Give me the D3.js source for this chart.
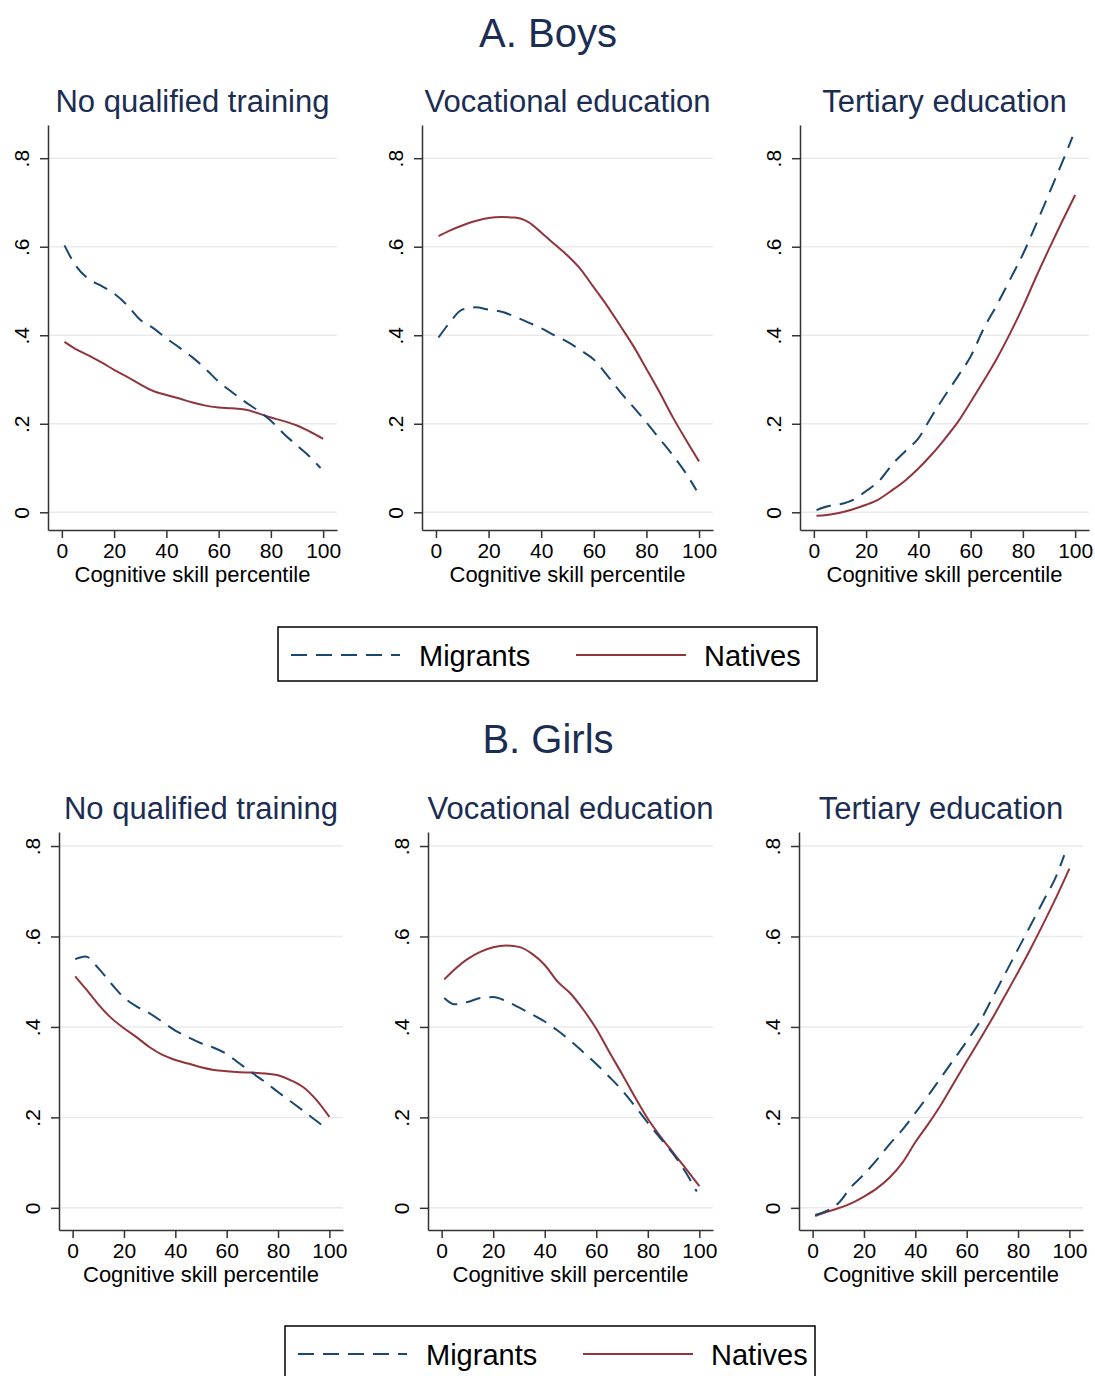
<!DOCTYPE html>
<html>
<head>
<meta charset="utf-8">
<script src="https://cdn.jsdelivr.net/npm/d3@7"></script>
<style>
  html, body { margin: 0; padding: 0; background: #fff; }
  svg { display: block; }
  text { font-family: "Liberation Sans", Arial, Helvetica, sans-serif; }
</style>
</head>
<body>
<svg id="chart" width="1095" height="1376"></svg>
<script>
// ---------- DATA ----------
const groupTitles = ["A. Boys", "B. Girls"];
const panelTitles = ["No qualified training", "Vocational education", "Tertiary education"];
const seriesNames = ["Migrants", "Natives"];
const xTicks = [0, 20, 40, 60, 80, 100];
const yTicks = [0, 0.2, 0.4, 0.6, 0.8];
const xAxisTitle = "Cognitive skill percentile";

const pctMigrants = [1, 5, 10, 15, 20, 25, 30, 35, 40, 45, 50, 55, 60, 65, 70, 75, 80, 85, 90, 95, 99];
const pctNatives  = [1, 5, 10, 15, 20, 25, 30, 35, 40, 45, 50, 55, 60, 65, 70, 75, 80, 85, 90, 95, 100];
const pctGirlsTertMigrants = [1, 5, 10, 15, 20, 25, 30, 35, 40, 45, 50, 55, 60, 65, 70, 75, 80, 85, 90, 95, 98];

// Boys
const boysNoQualMigrants = [0.603, 0.56, 0.528, 0.512, 0.494, 0.468, 0.435, 0.416, 0.393, 0.372, 0.35, 0.324, 0.295, 0.272, 0.25, 0.23, 0.207, 0.177, 0.151, 0.125, 0.100];
const boysNoQualNatives  = [0.385, 0.37, 0.355, 0.339, 0.322, 0.306, 0.289, 0.274, 0.265, 0.257, 0.248, 0.241, 0.237, 0.235, 0.232, 0.224, 0.214, 0.206, 0.196, 0.182, 0.166];
const boysVocMigrants    = [0.395, 0.427, 0.458, 0.463, 0.458, 0.453, 0.442, 0.429, 0.416, 0.4, 0.385, 0.366, 0.345, 0.31, 0.272, 0.238, 0.203, 0.166, 0.129, 0.088, 0.05];
const boysVocNatives     = [0.624, 0.636, 0.648, 0.658, 0.665, 0.667, 0.666, 0.656, 0.632, 0.606, 0.58, 0.549, 0.508, 0.467, 0.422, 0.376, 0.324, 0.271, 0.215, 0.164, 0.115];
const boysTertMigrants   = [0.005, 0.013, 0.018, 0.028, 0.048, 0.071, 0.108, 0.138, 0.167, 0.216, 0.262, 0.306, 0.352, 0.415, 0.468, 0.525, 0.583, 0.65, 0.72, 0.79, 0.848];
const boysTertNatives    = [-0.008, -0.006, -0.001, 0.007, 0.017, 0.03, 0.05, 0.072, 0.099, 0.13, 0.165, 0.203, 0.249, 0.297, 0.347, 0.403, 0.464, 0.531, 0.595, 0.657, 0.717];

// Girls
const girlsNoQualMigrants = [0.55, 0.556, 0.53, 0.496, 0.465, 0.445, 0.43, 0.411, 0.392, 0.377, 0.364, 0.354, 0.34, 0.319, 0.298, 0.278, 0.256, 0.235, 0.214, 0.192, 0.175];
const girlsNoQualNatives  = [0.512, 0.485, 0.45, 0.42, 0.397, 0.377, 0.355, 0.338, 0.327, 0.319, 0.311, 0.305, 0.302, 0.3, 0.299, 0.297, 0.293, 0.282, 0.266, 0.238, 0.201];
const girlsVocMigrants    = [0.464, 0.45, 0.455, 0.464, 0.466, 0.457, 0.443, 0.428, 0.412, 0.392, 0.369, 0.344, 0.318, 0.29, 0.26, 0.225, 0.188, 0.153, 0.118, 0.076, 0.036];
const girlsVocNatives     = [0.505, 0.527, 0.55, 0.566, 0.576, 0.58, 0.577, 0.562, 0.537, 0.5, 0.474, 0.438, 0.396, 0.345, 0.296, 0.245, 0.197, 0.157, 0.121, 0.085, 0.048];
const girlsTertMigrants   = [-0.016, -0.008, 0.01, 0.046, 0.074, 0.106, 0.141, 0.173, 0.21, 0.248, 0.288, 0.328, 0.368, 0.41, 0.464, 0.518, 0.572, 0.626, 0.68, 0.735, 0.78];
const girlsTertNatives    = [-0.018, -0.01, -0.001, 0.01, 0.025, 0.043, 0.067, 0.1, 0.145, 0.185, 0.228, 0.276, 0.324, 0.371, 0.419, 0.47, 0.521, 0.574, 0.63, 0.688, 0.75];

// ---------- LAYOUT ----------
const colMig = "#1a476f", colNat = "#90353b";
const titleCol = "#1b2d52";
const svg = d3.select("#chart");

const groups = [
  {
    title: groupTitles[0], titleY: 47,
    yDomain: [-0.04, 0.875], yRange: [530, 125],
    subtitleY: 112,
    panels: [
      { x0: 48,  x1: 337,  mig: [pctMigrants, boysNoQualMigrants], nat: [pctNatives, boysNoQualNatives] },
      { x0: 422, x1: 713,  mig: [pctMigrants, boysVocMigrants],    nat: [pctNatives, boysVocNatives] },
      { x0: 800, x1: 1089, mig: [pctMigrants, boysTertMigrants],   nat: [pctNatives, boysTertNatives] }
    ],
    legend: { x0: 278, x1: 817, y0: 627, y1: 681 }
  },
  {
    title: groupTitles[1], titleY: 753,
    yDomain: [-0.049, 0.831], yRange: [1230, 832],
    subtitleY: 819,
    panels: [
      { x0: 59,  x1: 343,  mig: [pctMigrants, girlsNoQualMigrants], nat: [pctNatives, girlsNoQualNatives] },
      { x0: 428, x1: 713,  mig: [pctMigrants, girlsVocMigrants],    nat: [pctNatives, girlsVocNatives] },
      { x0: 799, x1: 1083, mig: [pctGirlsTertMigrants, girlsTertMigrants], nat: [pctNatives, girlsTertNatives] }
    ],
    legend: { x0: 285, x1: 815, y0: 1326, y1: 1383 }
  }
];

const fmtY = d => d === 0 ? "0" : d3.format(".1f")(d).replace(/^0\./, ".");

groups.forEach(g => {
  svg.append("text")
    .attr("x", 548).attr("y", g.titleY)
    .attr("text-anchor", "middle")
    .attr("font-size", 40)
    .attr("fill", titleCol)
    .text(g.title);

  g.panels.forEach((p, i) => {
    const x = d3.scaleLinear().domain([-5.3, 105.3]).range([p.x0, p.x1]);
    const y = d3.scaleLinear().domain(g.yDomain).range(g.yRange);
    const gp = svg.append("g");

    // subtitle
    gp.append("text")
      .attr("x", (p.x0 + p.x1) / 2).attr("y", g.subtitleY)
      .attr("text-anchor", "middle")
      .attr("font-size", 31)
      .attr("fill", titleCol)
      .text(panelTitles[i]);

    // gridlines
    gp.append("g").selectAll("line").data(yTicks).join("line")
      .attr("x1", p.x0).attr("x2", p.x1)
      .attr("y1", d => y(d)).attr("y2", d => y(d))
      .attr("stroke", "#eaeaea").attr("stroke-width", 1.5);

    // y axis
    const yAxis = gp.append("g")
      .attr("transform", `translate(${p.x0},0)`)
      .call(d3.axisLeft(y).tickValues(yTicks).tickFormat(fmtY).tickSize(8).tickSizeOuter(0));
    yAxis.select(".domain").attr("stroke", "#333").attr("stroke-width", 1.5);
    yAxis.selectAll(".tick line").attr("stroke", "#333").attr("stroke-width", 1.5);
    yAxis.selectAll(".tick text")
      .attr("font-size", 21)
      .attr("fill", "#000")
      .attr("x", null).attr("dy", null)
      .attr("text-anchor", "middle")
      .attr("transform", "translate(-19,0) rotate(-90)")
      .attr("y", 0);

    // x axis
    const xAxis = gp.append("g")
      .attr("transform", `translate(0,${g.yRange[0]})`)
      .call(d3.axisBottom(x).tickValues(xTicks).tickFormat(d3.format("d")).tickSize(8).tickSizeOuter(0));
    xAxis.select(".domain").attr("stroke", "#333").attr("stroke-width", 1.5);
    xAxis.selectAll(".tick line").attr("stroke", "#333").attr("stroke-width", 1.5);
    xAxis.selectAll(".tick text")
      .attr("font-size", 21).attr("fill", "#000")
      .attr("dy", null).attr("y", 28);

    // x axis title
    gp.append("text")
      .attr("x", (p.x0 + p.x1) / 2).attr("y", g.yRange[0] + 52)
      .attr("text-anchor", "middle")
      .attr("font-size", 22).attr("fill", "#000")
      .text(xAxisTitle);

    const line = d3.line().x(d => x(d[0])).y(d => y(d[1])).curve(d3.curveMonotoneX);

    const natPts = p.nat[0].map((v, k) => [v, p.nat[1][k]]);
    const migPts = p.mig[0].map((v, k) => [v, p.mig[1][k]]);

    gp.append("path").datum(natPts)
      .attr("d", line).attr("fill", "none")
      .attr("stroke", colNat).attr("stroke-width", 2);
    gp.append("path").datum(migPts)
      .attr("d", line).attr("fill", "none")
      .attr("stroke", colMig).attr("stroke-width", 2)
      .attr("stroke-dasharray", "15,9");
  });

  // legend
  const L = g.legend;
  const lg = svg.append("g");
  lg.append("rect")
    .attr("x", L.x0).attr("y", L.y0)
    .attr("width", L.x1 - L.x0).attr("height", L.y1 - L.y0)
    .attr("fill", "#fff").attr("stroke", "#000").attr("stroke-width", 1.5);
  const ly = (L.y0 + 28);
  const sx = L.x0 + 13;
  lg.append("line").attr("x1", sx).attr("x2", sx + 109).attr("y1", ly).attr("y2", ly)
    .attr("stroke", colMig).attr("stroke-width", 2).attr("stroke-dasharray", "16,9");
  lg.append("text").attr("x", sx + 128).attr("y", ly + 11)
    .attr("font-size", 29).attr("fill", "#000").text(seriesNames[0]);
  lg.append("line").attr("x1", sx + 285).attr("x2", sx + 395).attr("y1", ly).attr("y2", ly)
    .attr("stroke", colNat).attr("stroke-width", 2);
  lg.append("text").attr("x", sx + 413).attr("y", ly + 11)
    .attr("font-size", 29).attr("fill", "#000").text(seriesNames[1]);
});
</script>
</body>
</html>
